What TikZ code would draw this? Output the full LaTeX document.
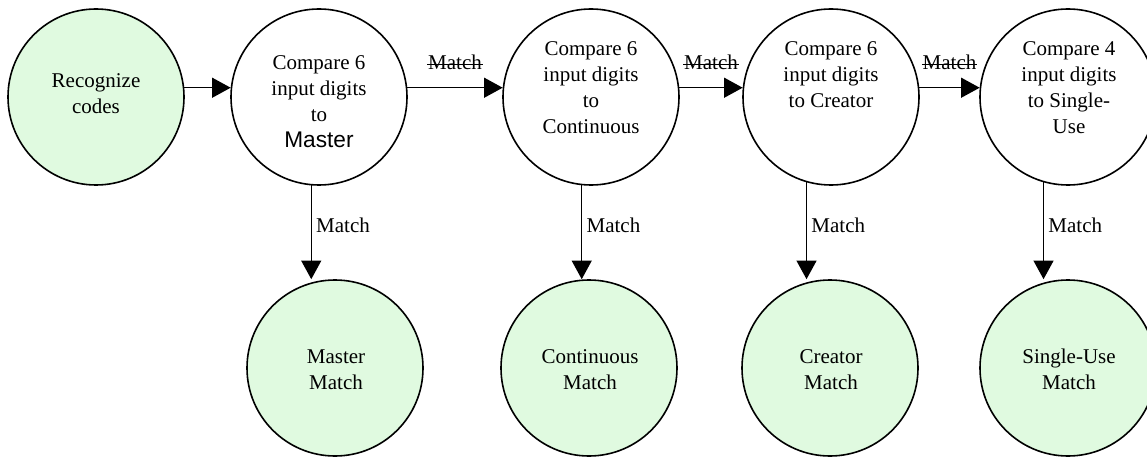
\documentclass[tikz,border=0pt]{standalone}
\usepackage{fontspec}
\setmainfont{Liberation Serif}
\newfontfamily\arialfont{Liberation Sans}
\usetikzlibrary{arrows.meta}
\definecolor{paleGreen}{RGB}{224,250,224}
\begin{document}
\begin{tikzpicture}[x=0.75pt,y=-0.75pt,
  state/.style={circle, draw, line width=1.2pt, minimum size=132pt, inner sep=0pt},
  goal/.style={state, fill=paleGreen},
  txt/.style={align=center, inner sep=0pt, anchor=north, font=\fontsize{15.75}{19.5}\selectfont},
  lbl/.style={inner sep=0pt, font=\fontsize{15.75}{19.5}\selectfont},
  flow/.style={line width=1.1pt, -{Triangle[length=14pt,width=15pt]}},
  strike/.style={line width=0.9pt}]
\useasboundingbox (0,0) rectangle (1147,460);
\clip (0,0) rectangle (1147,460);

% top row: start state and the four comparisons
\node[goal]  (c1) at (96,97)   {};
\node[state] (c2) at (319,97)  {};
\node[state] (c3) at (591,97)  {};
\node[state] (c4) at (831,97)  {};
\node[state] (c5) at (1068,97) {};

% bottom row: match results
\node[goal] (b2) at (335,368)  {};
\node[goal] (b3) at (589,368)  {};
\node[goal] (b4) at (830,368)  {};
\node[goal] (b5) at (1068,368) {};

% texts inside the circles
\node[txt] (t1) at (96,73)   {Recognize\\codes};
\node[txt] (t2) at (319,55)  {Compare 6\\input digits\\to\\{\arialfont\fontsize{17}{19.5}\selectfont Master}};
\node[txt] (t3) at (591,41)  {Compare 6\\input digits\\to\\Continuous};
\node[txt] (t4) at (831,41)  {Compare 6\\input digits\\to Creator};
\node[txt] (t5) at (1069,41) {Compare 4\\input digits\\to Single-\\Use};
\node[txt] (u2) at (336,349)  {Master\\Match};
\node[txt] (u3) at (590,349)  {Continuous\\Match};
\node[txt] (u4) at (831,349)  {Creator\\Match};
\node[txt] (u5) at (1069,349) {Single-Use\\Match};

% horizontal flow between comparisons
\draw[flow] (c1.6) -- (c2.174);
\draw[flow] (c2.6) -- node[lbl, anchor=base, yshift=13.5pt] (s2) {Match} (c3.174);
\draw[flow] (c3.6) -- node[lbl, anchor=base, yshift=13.5pt] (s3) {Match} (c4.174);
\draw[flow] (c4.6) -- node[lbl, anchor=base, yshift=13.5pt] (s4) {Match} (c5.174);
\foreach \s in {s2,s3,s4}
  \draw[strike] ([yshift=3.75pt]\s.base west) -- ([yshift=3.75pt]\s.base east);

% vertical flow to the match results
\draw[flow] (c2.265) -- (c2.265 |- b2.north);
\draw[flow] (c3.264) -- (c3.264 |- b3.north);
\draw[flow] (c4.254) -- (c4.254 |- b4.north);
\draw[flow] (c5.254) -- (c5.254 |- b5.north);

\node[lbl, anchor=base west, xshift=3.5pt] (m2) at (c2.265 |- 0,232) {Match};
\node[lbl, anchor=base west, xshift=3.5pt] (m3) at (c3.264 |- 0,232) {Match};
\node[lbl, anchor=base west, xshift=3.5pt] (m4) at (c4.254 |- 0,232) {Match};
\node[lbl, anchor=base west, xshift=3.5pt] (m5) at (c5.254 |- 0,232) {Match};
\end{tikzpicture}
\end{document}
